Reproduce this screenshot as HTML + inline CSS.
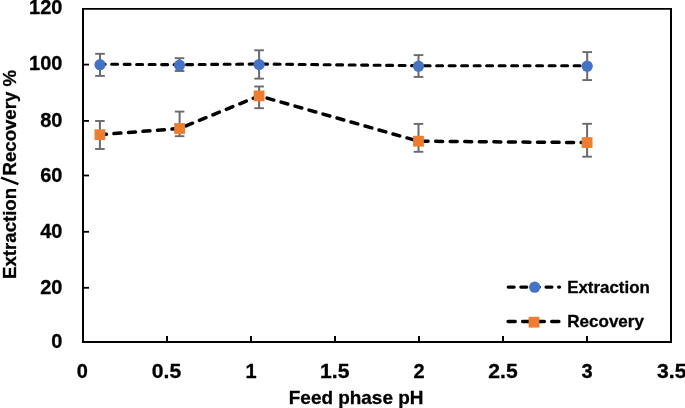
<!DOCTYPE html>
<html><head><meta charset="utf-8"><style>
html,body{margin:0;padding:0;background:#fff;overflow:hidden}
svg{display:block;will-change:transform}
</style></head><body>
<svg width="685" height="408" viewBox="0 0 685 408">
<rect width="685" height="408" fill="#fff"/>
<path d="M83,8 V343 M671,8 V343" stroke="#000" stroke-width="2" fill="none"/>
<path d="M82,8.85 H672" stroke="#000" stroke-width="1.75" fill="none"/>
<path d="M82,342 H672" stroke="#000" stroke-width="2" fill="none"/>
<line x1="84" x2="89" y1="287.8" y2="287.8" stroke="#000" stroke-width="1.8"/>
<line x1="84" x2="89" y1="231.8" y2="231.8" stroke="#000" stroke-width="1.8"/>
<line x1="84" x2="89" y1="175.5" y2="175.5" stroke="#000" stroke-width="1.8"/>
<line x1="84" x2="89" y1="120.9" y2="120.9" stroke="#000" stroke-width="1.8"/>
<line x1="84" x2="89" y1="64.6" y2="64.6" stroke="#000" stroke-width="1.8"/>
<line x1="167" x2="167" y1="336" y2="341" stroke="#000" stroke-width="2"/>
<line x1="251" x2="251" y1="336" y2="341" stroke="#000" stroke-width="2"/>
<line x1="335" x2="335" y1="336" y2="341" stroke="#000" stroke-width="2"/>
<line x1="419" x2="419" y1="336" y2="341" stroke="#000" stroke-width="2"/>
<line x1="503" x2="503" y1="336" y2="341" stroke="#000" stroke-width="2"/>
<line x1="587" x2="587" y1="336" y2="341" stroke="#000" stroke-width="2"/>
<polyline points="100,64.2 179.5,64.7 259.1,64.0 418.5,65.7 587.2,65.7" fill="none" stroke="#000" stroke-width="3.1" stroke-linecap="round" stroke-dasharray="5.95 6.55" stroke-dashoffset="0.85"/>
<polyline points="99.9,134.7 179.6,128.5 259.1,95.9 418.5,141.2 587.1,142.6" fill="none" stroke="#000" stroke-width="3.5" stroke-linecap="round" stroke-dasharray="7.0 7.55" stroke-dashoffset="0.46"/>
<line x1="100" x2="100" y1="53.8" y2="75.9" stroke="#6a6a6a" stroke-width="2"/><line x1="95.2" x2="104.8" y1="53.8" y2="53.8" stroke="#6a6a6a" stroke-width="1.9"/><line x1="95.2" x2="104.8" y1="75.9" y2="75.9" stroke="#6a6a6a" stroke-width="1.9"/>
<line x1="179.5" x2="179.5" y1="58.2" y2="71.0" stroke="#6a6a6a" stroke-width="2"/><line x1="174.7" x2="184.3" y1="58.2" y2="58.2" stroke="#6a6a6a" stroke-width="1.9"/><line x1="174.7" x2="184.3" y1="71.0" y2="71.0" stroke="#6a6a6a" stroke-width="1.9"/>
<line x1="259.1" x2="259.1" y1="50.3" y2="78.6" stroke="#6a6a6a" stroke-width="2"/><line x1="254.3" x2="263.9" y1="50.3" y2="50.3" stroke="#6a6a6a" stroke-width="1.9"/><line x1="254.3" x2="263.9" y1="78.6" y2="78.6" stroke="#6a6a6a" stroke-width="1.9"/>
<line x1="418.5" x2="418.5" y1="55.1" y2="76.9" stroke="#6a6a6a" stroke-width="2"/><line x1="413.7" x2="423.3" y1="55.1" y2="55.1" stroke="#6a6a6a" stroke-width="1.9"/><line x1="413.7" x2="423.3" y1="76.9" y2="76.9" stroke="#6a6a6a" stroke-width="1.9"/>
<line x1="587.2" x2="587.2" y1="52.1" y2="80.1" stroke="#6a6a6a" stroke-width="2"/><line x1="582.4" x2="592.0" y1="52.1" y2="52.1" stroke="#6a6a6a" stroke-width="1.9"/><line x1="582.4" x2="592.0" y1="80.1" y2="80.1" stroke="#6a6a6a" stroke-width="1.9"/>
<line x1="99.9" x2="99.9" y1="121" y2="149" stroke="#6a6a6a" stroke-width="2"/><line x1="95.1" x2="104.7" y1="121" y2="121" stroke="#6a6a6a" stroke-width="1.9"/><line x1="95.1" x2="104.7" y1="149" y2="149" stroke="#6a6a6a" stroke-width="1.9"/>
<line x1="179.6" x2="179.6" y1="111.6" y2="136.2" stroke="#6a6a6a" stroke-width="2"/><line x1="174.8" x2="184.4" y1="111.6" y2="111.6" stroke="#6a6a6a" stroke-width="1.9"/><line x1="174.8" x2="184.4" y1="136.2" y2="136.2" stroke="#6a6a6a" stroke-width="1.9"/>
<line x1="259.1" x2="259.1" y1="86.5" y2="108.2" stroke="#6a6a6a" stroke-width="2"/><line x1="254.3" x2="263.9" y1="86.5" y2="86.5" stroke="#6a6a6a" stroke-width="1.9"/><line x1="254.3" x2="263.9" y1="108.2" y2="108.2" stroke="#6a6a6a" stroke-width="1.9"/>
<line x1="418.5" x2="418.5" y1="123.9" y2="151.8" stroke="#6a6a6a" stroke-width="2"/><line x1="413.7" x2="423.3" y1="123.9" y2="123.9" stroke="#6a6a6a" stroke-width="1.9"/><line x1="413.7" x2="423.3" y1="151.8" y2="151.8" stroke="#6a6a6a" stroke-width="1.9"/>
<line x1="587.1" x2="587.1" y1="123.8" y2="156.7" stroke="#6a6a6a" stroke-width="2"/><line x1="582.3" x2="591.9" y1="123.8" y2="123.8" stroke="#6a6a6a" stroke-width="1.9"/><line x1="582.3" x2="591.9" y1="156.7" y2="156.7" stroke="#6a6a6a" stroke-width="1.9"/>
<circle cx="100" cy="64.7" r="5.6" fill="#4472C4"/>
<circle cx="179.5" cy="65.2" r="5.6" fill="#4472C4"/>
<circle cx="259.1" cy="64.5" r="5.6" fill="#4472C4"/>
<circle cx="418.5" cy="66.2" r="5.6" fill="#4472C4"/>
<circle cx="587.2" cy="66.2" r="5.6" fill="#4472C4"/>
<rect x="94.5" y="129.3" width="10.8" height="10.8" fill="#ED7D31"/>
<rect x="174.2" y="123.1" width="10.8" height="10.8" fill="#ED7D31"/>
<rect x="253.7" y="90.5" width="10.8" height="10.8" fill="#ED7D31"/>
<rect x="413.1" y="135.8" width="10.8" height="10.8" fill="#ED7D31"/>
<rect x="581.7" y="137.2" width="10.8" height="10.8" fill="#ED7D31"/>
<line x1="508.2" x2="559.6" y1="287.1" y2="287.1" stroke="#000" stroke-width="3.1" stroke-linecap="round" stroke-dasharray="6.0 6.6"/>
<circle cx="534.7" cy="287.2" r="5.6" fill="#4472C4"/>
<line x1="508.1" x2="559.4" y1="321.4" y2="321.4" stroke="#000" stroke-width="3.5" stroke-linecap="round" stroke-dasharray="7.1 7.45"/>
<rect x="528.6" y="316.8" width="10.8" height="10.8" fill="#ED7D31"/>
<text x="62.4" y="348" font-family="&quot;Liberation Sans&quot;, sans-serif" font-weight="bold" stroke="#000" stroke-width="0.3" font-size="20" text-anchor="end">0</text>
<text x="62.4" y="294" font-family="&quot;Liberation Sans&quot;, sans-serif" font-weight="bold" stroke="#000" stroke-width="0.3" font-size="20" text-anchor="end">20</text>
<text x="62.4" y="238.4" font-family="&quot;Liberation Sans&quot;, sans-serif" font-weight="bold" stroke="#000" stroke-width="0.3" font-size="20" text-anchor="end">40</text>
<text x="62.4" y="181.7" font-family="&quot;Liberation Sans&quot;, sans-serif" font-weight="bold" stroke="#000" stroke-width="0.3" font-size="20" text-anchor="end">60</text>
<text x="62.4" y="126.9" font-family="&quot;Liberation Sans&quot;, sans-serif" font-weight="bold" stroke="#000" stroke-width="0.3" font-size="20" text-anchor="end">80</text>
<text x="62.4" y="70.1" font-family="&quot;Liberation Sans&quot;, sans-serif" font-weight="bold" stroke="#000" stroke-width="0.3" font-size="20" text-anchor="end">100</text>
<text x="62.4" y="14" font-family="&quot;Liberation Sans&quot;, sans-serif" font-weight="bold" stroke="#000" stroke-width="0.3" font-size="20" text-anchor="end">120</text>
<text x="82.4" y="378" font-family="&quot;Liberation Sans&quot;, sans-serif" font-weight="bold" stroke="#000" stroke-width="0.3" font-size="20" text-anchor="middle">0</text>
<text x="166.5" y="378" font-family="&quot;Liberation Sans&quot;, sans-serif" font-weight="bold" stroke="#000" stroke-width="0.3" font-size="20" text-anchor="middle" textLength="29.4" lengthAdjust="spacingAndGlyphs">0.5</text>
<text x="251" y="378" font-family="&quot;Liberation Sans&quot;, sans-serif" font-weight="bold" stroke="#000" stroke-width="0.3" font-size="20" text-anchor="middle">1</text>
<text x="334.8" y="378" font-family="&quot;Liberation Sans&quot;, sans-serif" font-weight="bold" stroke="#000" stroke-width="0.3" font-size="20" text-anchor="middle" textLength="29.4" lengthAdjust="spacingAndGlyphs">1.5</text>
<text x="419" y="378" font-family="&quot;Liberation Sans&quot;, sans-serif" font-weight="bold" stroke="#000" stroke-width="0.3" font-size="20" text-anchor="middle">2</text>
<text x="503" y="378" font-family="&quot;Liberation Sans&quot;, sans-serif" font-weight="bold" stroke="#000" stroke-width="0.3" font-size="20" text-anchor="middle" textLength="29.4" lengthAdjust="spacingAndGlyphs">2.5</text>
<text x="587" y="378" font-family="&quot;Liberation Sans&quot;, sans-serif" font-weight="bold" stroke="#000" stroke-width="0.3" font-size="20" text-anchor="middle">3</text>
<text x="671.8" y="378" font-family="&quot;Liberation Sans&quot;, sans-serif" font-weight="bold" stroke="#000" stroke-width="0.3" font-size="20" text-anchor="middle" textLength="29.4" lengthAdjust="spacingAndGlyphs">3.5</text>
<text x="288.8" y="403.7" font-family="&quot;Liberation Sans&quot;, sans-serif" font-weight="bold" stroke="#000" stroke-width="0.3" font-size="19" textLength="134.6" lengthAdjust="spacingAndGlyphs">Feed phase pH</text>
<text transform="translate(15.9,278.9) rotate(-90)" x="0" y="0" font-family="&quot;Liberation Sans&quot;, sans-serif" font-weight="bold" stroke="#000" stroke-width="0.3" font-size="18.8" textLength="91.0" lengthAdjust="spacingAndGlyphs">Extraction</text>
<line x1="1.0" y1="177.7" x2="18.4" y2="184.1" stroke="#000" stroke-width="2.3"/>
<text transform="translate(15.9,175.5) rotate(-90)" x="0" y="0" font-family="&quot;Liberation Sans&quot;, sans-serif" font-weight="bold" stroke="#000" stroke-width="0.3" font-size="18.8" textLength="105.5" lengthAdjust="spacingAndGlyphs">Recovery %</text>
<text x="567.2" y="292.7" font-family="&quot;Liberation Sans&quot;, sans-serif" font-weight="bold" stroke="#000" stroke-width="0.3" font-size="16.6" textLength="82.6" lengthAdjust="spacingAndGlyphs">Extraction</text>
<text x="567.2" y="327.0" font-family="&quot;Liberation Sans&quot;, sans-serif" font-weight="bold" stroke="#000" stroke-width="0.3" font-size="16.6" textLength="76.8" lengthAdjust="spacingAndGlyphs">Recovery</text>
</svg>
</body></html>
